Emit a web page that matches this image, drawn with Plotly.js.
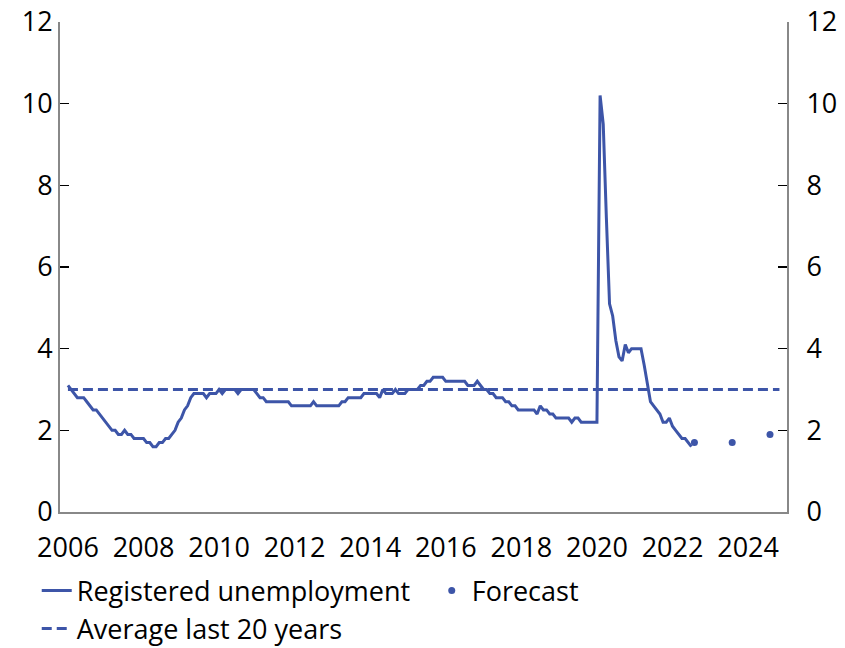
<!DOCTYPE html>
<html>
<head>
<meta charset="utf-8">
<script src="https://cdn.plot.ly/plotly-3.0.1.min.js"></script>
<style>html,body{margin:0;padding:0;background:#fff;}#chart{width:845px;height:648px;}</style>
</head>
<body>
<div id="chart"></div>
<script>
// Monthly registered unemployment (%), starting January 2006
var startYear = 2006;
var unemployment = [
  3.1,3.0,2.9,2.8,2.8,2.8,2.7,2.6,2.5,2.5,2.4,2.3,
  2.2,2.1,2.0,2.0,1.9,1.9,2.0,1.9,1.9,1.8,1.8,1.8,
  1.8,1.7,1.7,1.6,1.6,1.7,1.7,1.8,1.8,1.9,2.0,2.2,
  2.3,2.5,2.6,2.8,2.9,2.9,2.9,2.9,2.8,2.9,2.9,2.9,
  3.0,2.9,3.0,3.0,3.0,3.0,2.9,3.0,3.0,3.0,3.0,3.0,
  2.9,2.8,2.8,2.7,2.7,2.7,2.7,2.7,2.7,2.7,2.7,2.6,
  2.6,2.6,2.6,2.6,2.6,2.6,2.7,2.6,2.6,2.6,2.6,2.6,
  2.6,2.6,2.6,2.7,2.7,2.8,2.8,2.8,2.8,2.8,2.9,2.9,
  2.9,2.9,2.9,2.8,3.0,2.9,2.9,2.9,3.0,2.9,2.9,2.9,
  3.0,3.0,3.0,3.0,3.1,3.1,3.2,3.2,3.3,3.3,3.3,3.3,
  3.2,3.2,3.2,3.2,3.2,3.2,3.2,3.1,3.1,3.1,3.2,3.1,
  3.0,3.0,2.9,2.9,2.8,2.8,2.8,2.7,2.7,2.6,2.6,2.5,
  2.5,2.5,2.5,2.5,2.5,2.4,2.6,2.5,2.5,2.4,2.4,2.3,
  2.3,2.3,2.3,2.3,2.2,2.3,2.3,2.2,2.2,2.2,2.2,2.2,
  2.2,10.2,9.5,7.2,5.1,4.8,4.2,3.8,3.7,4.1,3.9,4.0,
  4.0,4.0,4.0,3.6,3.1,2.7,2.6,2.5,2.4,2.2,2.2,2.3,
  2.1,2.0,1.9,1.8,1.8,1.7,1.6
];
var forecastX = [2022.58, 2023.58, 2024.58];
var forecastValues = [1.7, 1.7, 1.9];
var averageX = [2006, 2024.83];
var averageValues = [3.0, 3.0];
var tickYears = [2006, 2008, 2010, 2012, 2014, 2016, 2018, 2020, 2022, 2024];
var yTicks = [0, 2, 4, 6, 8, 10, 12];

var months = unemployment.map(function (v, i) { return startYear + i / 12; });
var blue = '#3d55a8';
var font = {family: '"Open Sans", "Noto Sans", sans-serif', size: 27, color: '#000'};

var traces = [
  {x: months, y: unemployment, type: 'scatter', mode: 'lines', name: 'Registered unemployment',
   line: {color: blue, width: 3}},
  {x: forecastX, y: forecastValues, type: 'scatter', mode: 'markers', name: 'Forecast',
   marker: {color: blue, size: 7}},
  {x: averageX, y: averageValues, type: 'scatter', mode: 'lines', name: 'Average last 20 years',
   line: {color: blue, width: 3, dash: '10px,5px'}, yaxis: 'y2'}
];

var yCommon = {range: [0, 12], tickvals: yTicks, ticks: 'inside', ticklen: 9, tickwidth: 1.5,
  tickcolor: '#000', showline: true, linecolor: '#888', linewidth: 2, showgrid: false,
  zeroline: false, tickfont: font, fixedrange: true};

var layout = {
  width: 845, height: 648,
  margin: {l: 60, r: 58, t: 22, b: 136, autoexpand: false},
  paper_bgcolor: '#fff', plot_bgcolor: '#fff',
  font: font,
  showlegend: true,
  legend: {orientation: 'h', x: -0.032, xanchor: 'left', y: -0.111, yanchor: 'top',
    entrywidth: 350,
    font: {family: font.family, size: 27, color: '#000'}, traceorder: 'normal',
    bgcolor: 'rgba(0,0,0,0)'},
  xaxis: {range: [2005.79, 2025.03], tickvals: tickYears, ticktext: tickYears.map(String),
    ticks: '', showline: true, linecolor: '#888', linewidth: 2, showgrid: false, zeroline: false,
    tickfont: font, ticklabelstandoff: 11},
  yaxis: Object.assign({}, yCommon, {side: 'left'}),
  yaxis2: Object.assign({}, yCommon, {side: 'right', overlaying: 'y', ticklabelstandoff: 12})
};

Plotly.newPlot('chart', traces, layout, {staticPlot: true});
</script>
</body>
</html>
